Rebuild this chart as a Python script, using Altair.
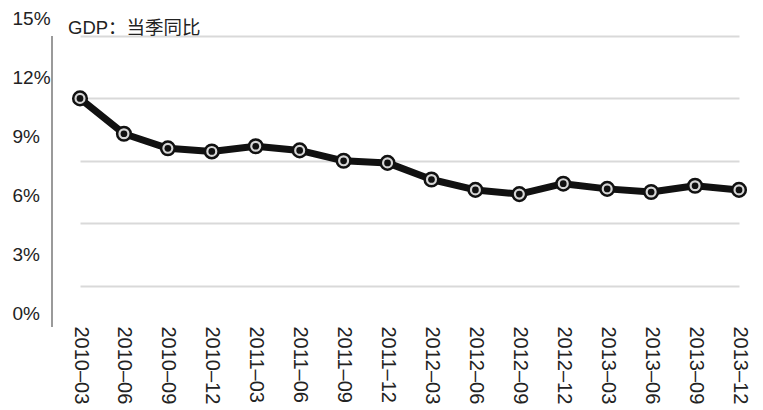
import altair as alt
import pandas as pd

quarters = ["2010–03", "2010–06", "2010–09", "2010–12",
            "2011–03", "2011–06", "2011–09", "2011–12",
            "2012–03", "2012–06", "2012–09", "2012–12",
            "2013–03", "2013–06", "2013–09", "2013–12"]
gdp_yoy = [12.0, 10.3, 9.6, 9.45, 9.7, 9.5, 9.0, 8.9,
           8.1, 7.6, 7.4, 7.9, 7.65, 7.5, 7.8, 7.6]
y_ticks = [0, 3, 6, 9, 12, 15]
title_text = "GDP：当季同比"

df = pd.DataFrame({"q": quarters, "v": gdp_yoy})

FONT = "Liberation Sans, Noto Sans CJK SC, sans-serif"
W, H = 695, 312

x_enc = alt.X("q:O", sort=quarters,
              scale=alt.Scale(type="point", range=[28, 687], padding=0),
              axis=alt.Axis(title=None, labelAngle=90, labelFontSize=20,
                            labelColor="#222", labelFont=FONT, domain=False,
                            ticks=False, labelPadding=0, offset=-22,
                            labelOverlap=False, labelBound=False, grid=False))
y_enc = alt.Y("v:Q", scale=alt.Scale(domain=[0, 15], nice=False, zero=True),
              axis=alt.Axis(title=None, values=y_ticks,
                            labelExpr="datum.value + '%'",
                            labelFontSize=19, labelColor="#222", labelFont=FONT,
                            labelAlign="left", labelPadding=40,
                            labelOffset=alt.ExprRef("-(17.5 + (15 - datum.value) * 1.13)"),
                            domain=False, ticks=False,
                            grid=True, gridColor="#d9d9d9", gridWidth=2,
                            gridOpacity={"condition": {"test": "datum.value === 0", "value": 0}, "value": 1}))

base = alt.Chart(df)

axis_line = base.mark_rule(color="#9a9a9a", strokeWidth=2).encode(
    x=alt.value(0), y=alt.value(0), y2=alt.value(291))

title_mark = alt.Chart(pd.DataFrame({"t": [title_text]})).mark_text(
    align="left", baseline="alphabetic", fontSize=18.5, font=FONT, color="#222"
).encode(text="t:N", x=alt.value(16), y=alt.value(-2))

line = base.mark_line(color="#111111", strokeWidth=7, strokeJoin="round").encode(
    x=x_enc, y=y_enc)
outer = base.mark_point(shape="circle", filled=True, size=185, fill="#d6d6d6",
                        stroke="#111111", strokeWidth=2.5, opacity=1).encode(
    x=alt.X("q:O", sort=quarters), y="v:Q")
inner = base.mark_point(shape="circle", filled=True, size=45, color="#111111",
                        opacity=1).encode(x=alt.X("q:O", sort=quarters), y="v:Q")

chart = alt.layer(line, outer, inner, axis_line, title_mark).properties(
    width=W, height=H,
    autosize=alt.AutoSizeParams(type="none"),
    padding={"left": 44, "top": 28, "right": 8, "bottom": 62},
).configure(background="white").configure_view(stroke=None)

chart.save("out.html", embed_options={"renderer": "svg", "actions": False})
